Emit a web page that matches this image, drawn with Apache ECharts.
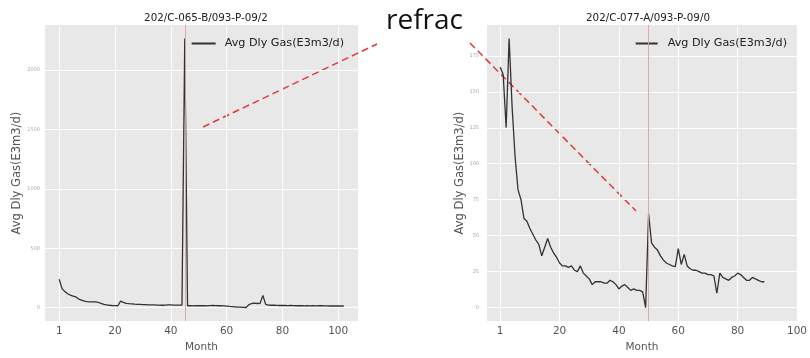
<!DOCTYPE html>
<html>
<head>
<meta charset="utf-8">
<script src="https://cdn.jsdelivr.net/npm/echarts@6/dist/echarts.min.js"></script>
<style>html,body{margin:0;padding:0;background:#fff}#c{width:810px;height:358px}</style>
</head>
<body>
<div id="c"></div>
<script>
// ---- data ----
const leftTitle = '202/C-065-B/093-P-09/2';
const rightTitle = '202/C-077-A/093-P-09/0';
const seriesName = 'Avg Dly Gas(E3m3/d)';
const xTickValues = [0, 20, 40, 60, 80, 100];
const xTickLabels = ['1', '20', '40', '60', '80', '100'];
const leftYTicks = [0, 500, 1000, 1500, 2000];
const rightYTicks = [0, 25, 50, 75, 100, 125, 150, 175];
const leftRefracMonth = 45;
const rightRefracMonth = 50;
// left well, month index 0..102
const leftGas = [239,160,135,117,105,97,90,72,63,55,50,49,49,49,45,35,28,23,20,18,17,16,55,45,36,33,31,29,28,27,
  26,25,24,23,23,22,21,20,21,23,24,22,21,22,22,2265,16,16,15,16,17,16,16,15,17,18,17,16,16,14,
  12,10,9,7,5,4,2,1,25,35,38,35,36,103,27,22,20,20,19,18,19,18,17,18,17,16,17,16,15,16,
  15,16,15,16,17,15,15,14,15,14,14,14,14];
// right well, month index 0..89
const rightGas = [167,162,125,187,140,105,82,75,62,60,55,51,47,44,36,42,48,42,38,35,31,29,29,28,29,26,25,29,24,22,
  20,16,18,18,18,17,17,19,18,16,13,15,16,14,12,13,12,12,11,0,65,45,42,40,36,33,31,30,29,28.5,
  41,30,37,29,27,26,26,25,24,24,23,23,22,10,24,21,20,19,21,22,24,23,21,19,19,21,20,19,18,18];

const toPairs = arr => arr.map((v, i) => [i, v]);
const font = 'DejaVu Sans';
const gridBg = '#E8E8E8';

function xAxisCfg(gridIndex, min, max) {
  return {
    type: 'value', gridIndex, min, max,
    name: 'Month', nameLocation: 'middle', nameGap: 15,
    nameTextStyle: { fontFamily: font, fontSize: 10.5, color: '#555' },
    axisLine: { show: false }, axisTick: { show: false, customValues: xTickValues },
    axisLabel: { customValues: xTickValues, formatter: v => xTickLabels[xTickValues.indexOf(v)] ?? '',
      fontFamily: font, fontSize: 10.5, color: '#555', margin: 5 },
    splitLine: { show: true, lineStyle: { color: '#fff', width: 1 } }
  };
}
function yAxisCfg(gridIndex, min, max, ticks, gap, margin) {
  return {
    type: 'value', gridIndex, min, max,
    name: seriesName, nameLocation: 'middle', nameGap: gap,
    nameTextStyle: { fontFamily: font, fontSize: 11.5, color: '#555' },
    axisLine: { show: false }, axisTick: { show: false, customValues: ticks },
    axisLabel: { customValues: ticks, formatter: v => String(v), fontFamily: font, fontSize: 5, color: '#aaa', margin },
    splitLine: { show: true, lineStyle: { color: '#fff', width: 1 } }
  };
}
function refracLine(x) {
  return { silent: true, symbol: 'none', label: { show: false },
    lineStyle: { color: '#eb9c9c', width: 1, type: 'solid', opacity: 0.9 },
    data: [{ xAxis: x }] };
}

const chart = echarts.init(document.getElementById('c'), null, { renderer: 'canvas' });
chart.setOption({
  backgroundColor: '#fff',
  animation: false,
  title: [
    { text: leftTitle, left: 201, top: 8, textAlign: 'center',
      textStyle: { fontFamily: font, fontSize: 10.3, fontWeight: 'normal', color: '#222' } },
    { text: rightTitle, left: 643, top: 8, textAlign: 'center',
      textStyle: { fontFamily: font, fontSize: 10.3, fontWeight: 'normal', color: '#222' } }
  ],
  legend: [
    { data: [seriesName], right: 461, top: 33, itemWidth: 24, itemHeight: 2, icon: 'rect', itemGap: 0,
      textStyle: { fontFamily: font, fontSize: 11.2, color: '#222', padding: [0, 0, 0, 4] }, selectedMode: false },
    { data: [{ name: seriesName + ' ' }], right: 18, top: 33, itemWidth: 22, itemHeight: 2, icon: 'rect',
      textStyle: { fontFamily: font, fontSize: 11.2, color: '#222', padding: [0, 0, 0, 5] }, selectedMode: false,
      formatter: n => n.trim() }
  ],
  grid: [
    { left: 45, top: 25, width: 313, height: 305, show: true, backgroundColor: gridBg, borderWidth: 0 },
    { left: 487, top: 25, width: 311, height: 305, show: true, backgroundColor: gridBg, borderWidth: 0 }
  ],
  xAxis: [ xAxisCfg(0, -5.1, 107.1), xAxisCfg(1, -4.45, 100) ],
  yAxis: [ yAxisCfg(0, -113.25, 2378.25, leftYTicks, 22, 5), yAxisCfg(1, -9.35, 196.4, rightYTicks, 18, 8) ],
  series: [
    { name: seriesName, type: 'line', xAxisIndex: 0, yAxisIndex: 0, data: toPairs(leftGas),
      showSymbol: false, lineStyle: { color: '#333', width: 1.3 }, itemStyle: { color: '#333' },
      markLine: refracLine(leftRefracMonth) },
    { name: seriesName + ' ', type: 'line', xAxisIndex: 1, yAxisIndex: 1, data: toPairs(rightGas),
      showSymbol: false, lineStyle: { color: '#333', width: 1.3 }, itemStyle: { color: '#333' },
      markLine: refracLine(rightRefracMonth) }
  ],
  graphic: [
    { type: 'text', left: 386, top: 7, style: { text: 'refrac', font: '28px "Open Sans"', fill: '#111' } },
    { type: 'line', shape: { x1: 203, y1: 127, x2: 377, y2: 44 },
      style: { stroke: '#e03a3a', lineWidth: 1.5, lineDash: [7, 4] } },
    { type: 'line', shape: { x1: 470, y1: 43, x2: 636, y2: 211 },
      style: { stroke: '#e03a3a', lineWidth: 1.5, lineDash: [7, 4] } }
  ]
});
</script>
</body>
</html>
